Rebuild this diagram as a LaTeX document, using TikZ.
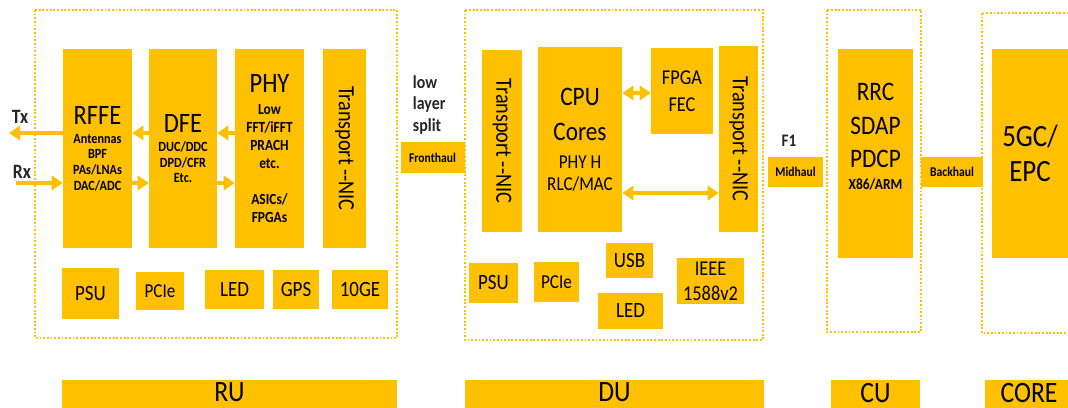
\documentclass[tikz,border=0pt]{standalone}
\usepackage{fontspec}
\setmainfont{Carlito}[FakeStretch=0.87]
\usepackage{graphicx}
\usepackage{tikz}
\usetikzlibrary{arrows.meta, positioning}
\definecolor{RanGold}{HTML}{FFC000}
\definecolor{RanInk}{HTML}{262626}

\begin{document}
\begin{tikzpicture}[
  blk/.style={rectangle, fill=RanGold, inner sep=0pt, align=center, text=black,
    font=\fontsize{15.5}{18}\selectfont},
  hop/.style={blk, font=\bfseries\fontsize{9.5}{11}\selectfont},
  bar/.style={blk, minimum height=0.8cm, text depth=5pt, font=\fontsize{21}{24}\selectfont},
  frame/.style={draw=RanGold, line width=1.4pt, dash pattern=on 1.3pt off 1.3pt},
  link/.style={RanGold, line width=2.6pt, -{Triangle[length=0.28cm,width=0.36cm]}},
  twoway/.style={link, {Triangle[length=0.28cm,width=0.36cm]}-{Triangle[length=0.28cm,width=0.36cm]}},
  note/.style={font=\bfseries\fontsize{14.5}{17}\selectfont, text=RanInk}
]
\useasboundingbox (0,0) rectangle (26.7,-10.2);
\fill[white] (0,0) rectangle (26.7,-10.2);
\clip (0,0) rectangle (26.7,-10.2);

% dotted frames
\draw[frame] (0.875,-0.25) rectangle (9.925,-8.45);
\draw[frame] (11.625,-0.25) rectangle (19.075,-8.5);
\draw[frame] (20.675,-0.25) rectangle (23.025,-8.3);
\draw[frame] (24.55,-0.325) rectangle (27.5,-8.325);

% RU
\node[blk, minimum width=1.725cm, minimum height=4.975cm,
  font=\bfseries\fontsize{10}{11.2}\selectfont] (rffe) at (2.4375,-3.7125)
  {{\mdseries\fontsize{20}{22}\selectfont RFFE}\\[2.3pt]Antennas\\BPF\\PAs/LNAs\\DAC/ADC};
\node[blk, minimum width=1.7cm, minimum height=4.975cm,
  font=\bfseries\fontsize{10}{11.3}\selectfont] (dfe) at (4.575,-3.7125)
  {{\mdseries\fontsize{20}{22}\selectfont DFE}\\[2.3pt]DUC/DDC\\DPD/CFR\\Etc.};
\node[blk, minimum width=1.725cm, minimum height=4.975cm,
  font=\bfseries\fontsize{11}{12.8}\selectfont] (phy) at (6.7375,-3.7125)
  {{\mdseries\fontsize{20}{22}\selectfont PHY}\\[2.8pt]Low\\FFT/iFFT\\PRACH\\etc.\\[12.8pt]ASICs/\\FPGAs};
\node[blk, minimum width=1.075cm, minimum height=4.975cm] (ru-nic) at (8.6125,-3.7125)
  {\rotatebox{-90}{\fontsize{16.5}{18}\selectfont Transport -{}-NIC}};
\node[blk, minimum width=1.425cm, minimum height=1.275cm] (ru-psu) at (2.2625,-7.3375) {PSU};
\node[blk, minimum width=1.2cm, minimum height=0.95cm,
  font=\fontsize{14}{16}\selectfont] (ru-pcie) at (4.0,-7.275) {PCIe};
\node[blk, minimum width=1.475cm, minimum height=0.975cm] (ru-led) at (5.8625,-7.2375) {LED};
\node[blk, minimum width=1.15cm, minimum height=0.975cm] (ru-gps) at (7.4,-7.2375) {GPS};
\node[blk, minimum width=1.4cm, minimum height=0.975cm] (ru-eth) at (9.0,-7.2375) {10GE};

\node[note] (tx) at (0.5,-2.925) {Tx};
\node[note] (rx) at (0.55,-4.3) {Rx};
\coordinate (txend) at (0.225,-3.325);
\coordinate (rxstart) at (0.4,-4.575);
\draw[link] (rffe.west |- txend) -- (txend);
\draw[link] (rxstart) -- (rffe.west |- rxstart);
\draw[link] (dfe.west |- txend) -- (rffe.east |- txend);
\draw[link] (rffe.east |- rxstart) -- (dfe.west |- rxstart);
\draw[link] (phy.west |- txend) -- (dfe.east |- txend);
\draw[link] (dfe.east |- rxstart) -- (phy.west |- rxstart);

% fronthaul
\node[note, align=left, anchor=west, font=\bfseries\fontsize{13}{15}\selectfont]
  (split) at (10.2,-2.625) {low\\layer\\split};
\node[hop, minimum width=1.6cm, minimum height=0.775cm] (fh) at (10.8125,-3.95) {Fronthaul};

% DU
\node[blk, minimum width=1.0cm, minimum height=4.55cm] (du-nic-l) at (12.55,-3.525)
  {\rotatebox{-90}{\fontsize{16.5}{18}\selectfont Transport -{}-NIC}};
\node[blk, minimum width=2.1cm, minimum height=4.625cm,
  font=\fontsize{14}{15.6}\selectfont] (cpu) at (14.5,-3.4875)
  {{\fontsize{19}{22}\selectfont CPU}\\[9.4pt]{\fontsize{19}{22}\selectfont Cores}\\[4.4pt]PHY H\\RLC/MAC};
\node[blk, minimum width=1.55cm, minimum height=2.15cm,
  font=\fontsize{15}{19.5}\selectfont] (fpga) at (17.05,-2.275) {FPGA\\FEC};
\node[blk, minimum width=0.975cm, minimum height=4.65cm] (du-nic-r) at (18.4625,-3.475)
  {\rotatebox{-90}{\fontsize{16.5}{18}\selectfont Transport -{}-NIC}};
\node[blk, minimum width=1.225cm, minimum height=1.0cm] (du-psu) at (12.3375,-7.075) {PSU};
\node[blk, minimum width=1.125cm, minimum height=1.0cm,
  font=\fontsize{14}{16}\selectfont] (du-pcie) at (13.9125,-7.05) {PCIe};
\node[blk, minimum width=1.175cm, minimum height=0.875cm] (du-usb) at (15.7375,-6.5125) {USB};
\node[blk, minimum width=1.625cm, minimum height=0.9cm] (du-led) at (15.7625,-7.775) {LED};
\node[blk, minimum width=1.675cm, minimum height=1.15cm,
  font=\fontsize{15}{17.7}\selectfont] (du-ptp) at (17.7625,-7.025) {IEEE\\1588v2};
\coordinate (fec) at (0,-2.325);
\coordinate (bus) at (0,-4.825);
\draw[twoway] (cpu.east |- fec) -- (fpga.west |- fec);
\draw[twoway] (cpu.east |- bus) -- (du-nic-r.west |- bus);

% midhaul, CU, backhaul, core
\node[note, font=\bfseries\fontsize{12.5}{15}\selectfont] (f1) at (19.725,-3.525) {F1};
\node[hop, minimum width=1.375cm, minimum height=0.75cm] (mh) at (19.8875,-4.3) {Midhaul};
\node[blk, minimum width=1.875cm, minimum height=5.225cm,
  font=\fontsize{19}{23.6}\selectfont] (cu) at (21.8875,-3.8375)
  {RRC\\SDAP\\PDCP\\[-7.6pt]{\bfseries\fontsize{11}{13}\selectfont X86/ARM\rule[-24pt]{0pt}{0pt}}};
\node[hop, minimum width=1.55cm, minimum height=0.75cm] (bh) at (23.8,-4.3) {Backhaul};
\node[blk, minimum width=1.9cm, minimum height=5.225cm,
  font=\fontsize{22}{25}\selectfont] (core) at (25.75,-3.8375) {5GC/\\EPC};

% bottom bars
\node[bar, minimum width=8.375cm] (ru-bar) at (5.7375,-9.9) {RU};
\node[bar, minimum width=7.475cm] (du-bar) at (15.3625,-9.9) {DU};
\node[bar, minimum width=2.225cm] (cu-bar) at (21.8875,-9.9) {CU};
\node[bar, minimum width=2.2cm] (core-bar) at (25.725,-9.9) {CORE};
\end{tikzpicture}
\end{document}
